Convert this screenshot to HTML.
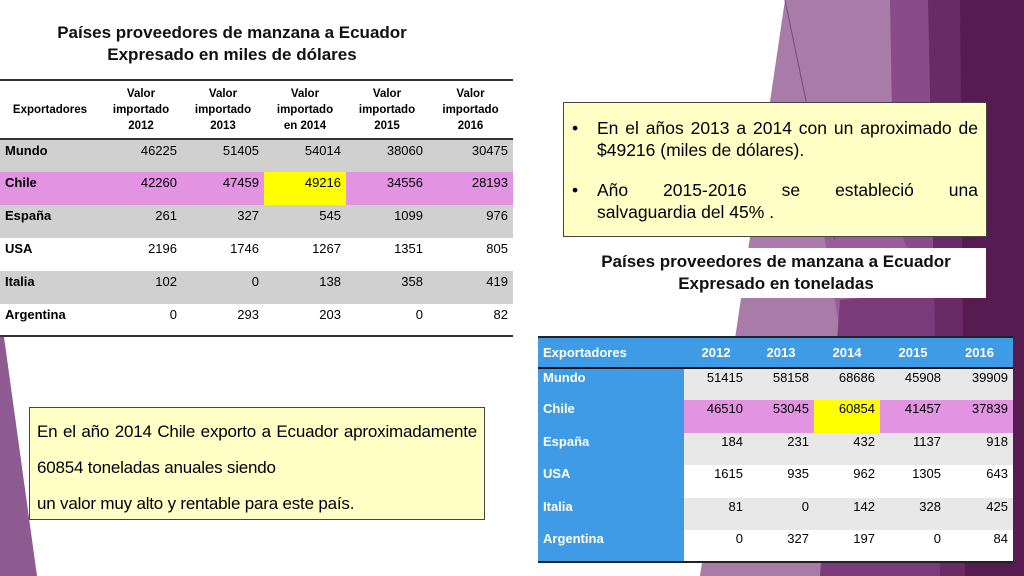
<!DOCTYPE html>
<html><head><meta charset="utf-8"><style>
body{margin:0;width:1024px;height:576px;position:relative;overflow:hidden;background:#fff;font-family:"Liberation Sans",sans-serif;}
.abs{position:absolute;}
table{border-collapse:collapse;position:absolute;table-layout:fixed;}
td{padding:0 5px;font-size:13px;color:#000;}
#t1 td{height:33px;vertical-align:top;padding-top:3px;text-align:right;box-sizing:border-box;}
#t1 td:first-child{text-align:left;font-weight:bold;}
#t1 tr.h td{height:58px;text-align:center;font-weight:bold;font-size:11.5px;line-height:16px;vertical-align:middle;padding-top:0;}
#t1 tr.g td{background:#d0d0d0;}
#t1 tr.p td{background:#e294e2;}
#t2 td{height:32.4px;vertical-align:top;padding-top:1px;text-align:right;box-sizing:border-box;}
#t2 tr.g td{background:#e8e8e8;}
#t2 tr.w td{background:#fff;}
#t2 tr.p td{background:#e294e2;}
#t2 tr td:first-child{text-align:left;background:#3f9be6!important;color:#fff;font-weight:bold;}
#t2 tr.h td{background:#3f9be6;color:#fff;font-weight:bold;text-align:center;height:31px;vertical-align:middle;padding-top:0;border-bottom:2px solid #111;}
#t2 tr.h td:first-child{text-align:left;}
td.y{background:#ffff00!important;}
.title{font-weight:bold;text-align:center;font-size:17px;line-height:22px;color:#111;}
.box{background:#ffffc6;border:1px solid #444;box-sizing:border-box;}
</style></head><body>
<svg class="abs" style="left:0;top:0" width="1024" height="576">
<polygon points="785,0 965,0 965,576 700,576" fill="#a97ba8"/>
<polygon points="890,0 965,0 965,576 900,576" fill="#8b4b8a"/>
<polygon points="820,210 900,230 965,400 965,576 880,576" fill="#9a5c9a"/>
<polygon points="840,300 940,290 960,576 820,576" fill="#7b3a7a"/>
<polygon points="928,0 1024,0 1024,576 940,576" fill="#6a2a66"/>
<polygon points="960,0 1024,0 1024,576 965,576" fill="#561c52"/>
<line x1="785" y1="0" x2="835" y2="240" stroke="#7a4a7a" stroke-width="1"/>
<polygon points="0,337 4,337 37,576 0,576" fill="#8e5a92"/>
</svg>
<div class="abs title" style="left:0;top:22px;width:464px">Países proveedores de manzana a Ecuador<br>Expresado en miles de dólares</div>
<div class="abs" style="left:0;top:79px;width:513px;height:2px;background:#333"></div>
<div class="abs" style="left:0;top:335px;width:513px;height:2px;background:#333"></div>
<table id="t1" style="left:0;top:81px;width:513px">
<colgroup><col style="width:100px"><col style="width:82px"><col style="width:82px"><col style="width:82px"><col style="width:82px"><col style="width:85px"></colgroup>
<tr class="h" style="border-bottom:2px solid #333"><td style="text-align:center">Exportadores</td><td>Valor<br>importado<br>2012</td><td>Valor<br>importado<br>2013</td><td>Valor<br>importado<br>en 2014</td><td>Valor<br>importado<br>2015</td><td>Valor<br>importado<br>2016</td></tr>
<tr class="g"><td>Mundo</td><td>46225</td><td>51405</td><td>54014</td><td>38060</td><td>30475</td></tr>
<tr class="p"><td>Chile</td><td>42260</td><td>47459</td><td class="y">49216</td><td>34556</td><td>28193</td></tr>
<tr class="g"><td>España</td><td>261</td><td>327</td><td>545</td><td>1099</td><td>976</td></tr>
<tr><td>USA</td><td>2196</td><td>1746</td><td>1267</td><td>1351</td><td>805</td></tr>
<tr class="g"><td>Italia</td><td>102</td><td>0</td><td>138</td><td>358</td><td>419</td></tr>
<tr><td>Argentina</td><td>0</td><td>293</td><td>203</td><td>0</td><td>82</td></tr>
</table>
<div class="abs box" style="left:563px;top:102px;width:424px;height:135px;padding:14px 8px 0 8px;font-size:17.5px;line-height:22px;">
<div style="display:flex"><span style="width:25px">•</span><span style="flex:1;text-align:justify;text-align-last:left">En el años 2013 a 2014 con un aproximado de $49216 (miles de dólares).</span></div>
<div style="display:flex;margin-top:18px"><span style="width:25px">•</span><span style="flex:1;text-align:justify;">Año&nbsp;&nbsp;&nbsp;&nbsp; 2015-2016&nbsp;&nbsp;&nbsp;&nbsp; se&nbsp;&nbsp;&nbsp;&nbsp; estableció&nbsp;&nbsp;&nbsp;&nbsp; una salvaguardia del 45% .</span></div>
</div>
<div class="abs title" style="left:566px;top:248px;width:420px;height:50px;background:#fff;padding-top:3px;box-sizing:border-box">Países proveedores de manzana a Ecuador<br>Expresado en toneladas</div>
<table id="t2" style="left:538px;top:336px;width:475px;border-top:2px solid #222;border-bottom:2px solid #222">
<colgroup><col style="width:146px"><col style="width:64px"><col style="width:66px"><col style="width:66px"><col style="width:66px"><col style="width:67px"></colgroup>
<tr class="h"><td>Exportadores</td><td>2012</td><td>2013</td><td>2014</td><td>2015</td><td>2016</td></tr>
<tr class="g"><td>Mundo</td><td>51415</td><td>58158</td><td>68686</td><td>45908</td><td>39909</td></tr>
<tr class="p"><td>Chile</td><td>46510</td><td>53045</td><td class="y">60854</td><td>41457</td><td>37839</td></tr>
<tr class="g"><td>España</td><td>184</td><td>231</td><td>432</td><td>1137</td><td>918</td></tr>
<tr class="w"><td>USA</td><td>1615</td><td>935</td><td>962</td><td>1305</td><td>643</td></tr>
<tr class="g"><td>Italia</td><td>81</td><td>0</td><td>142</td><td>328</td><td>425</td></tr>
<tr class="w"><td>Argentina</td><td>0</td><td>327</td><td>197</td><td>0</td><td>84</td></tr>
</table>
<div class="abs box" style="left:29px;top:407px;width:456px;height:113px;padding:6px 7px 0 7px;font-size:17px;line-height:36px;text-align:justify;letter-spacing:-0.2px">En el año 2014 Chile exporto a Ecuador aproximadamente 60854 toneladas anuales siendo<br>un valor muy alto y rentable para este país.</div>
</body></html>
